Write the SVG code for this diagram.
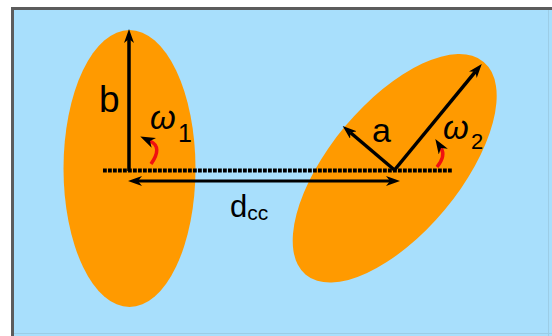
<svg xmlns="http://www.w3.org/2000/svg" width="552" height="336" viewBox="0 0 552 336">
<style>
.lbl{font-family:"Liberation Sans",Arial,sans-serif;fill:#000}
.ell{fill:#FF9A00}
.ax{stroke:#000;stroke-width:3.5;fill:none}
.rot{stroke:#F01010;stroke-width:3.5;fill:none}
</style>
<defs>
<marker id="ah" viewBox="0 0 14 10" refX="4" refY="5" markerWidth="14" markerHeight="10" markerUnits="userSpaceOnUse" orient="auto-start-reverse">
<path d="M0,0 L14,5 L0,10 L4,5 Z" fill="#000"/>
</marker>
<marker id="ahs" viewBox="0 0 14 10" refX="4" refY="5" markerWidth="15" markerHeight="11" markerUnits="userSpaceOnUse" orient="auto">
<path d="M0,0 L14,5 L0,10 L4,5 Z" fill="#000"/>
</marker>
</defs>
<rect x="0" y="0" width="552" height="336" fill="#fff"/>
<rect x="12" y="8" width="540" height="328" fill="#A8DFFC"/>
<path d="M548.5,10 V336 M12,333.5 H552" stroke="#9CCDE6" stroke-width="1" fill="none"/>
<path d="M12.5,336 V8.5 H552" stroke="#5C5C5C" stroke-width="3" fill="none"/>

<g id="ellipse1">
<ellipse class="ell" cx="129.5" cy="168.5" rx="66" ry="138.5"/>
</g>
<g id="ellipse2">
<ellipse class="ell" cx="394.7" cy="168.3" rx="138.7" ry="65" transform="rotate(-50.1 394.7 168.3)"/>
</g>

<g id="connectors">
<line x1="103" y1="170.5" x2="452" y2="170.5" stroke="#000" stroke-width="4" stroke-dasharray="3.8 1.2"/>
<line class="ax" x1="129" y1="171" x2="129" y2="39" marker-end="url(#ah)"/>
<line class="ax" x1="394.5" y1="170" x2="475.4" y2="71.7" marker-end="url(#ah)"/>
<line class="ax" x1="394.5" y1="170" x2="350.3" y2="132.5" marker-end="url(#ah)"/>
<line x1="138" y1="181" x2="390" y2="181" stroke="#000" stroke-width="2.8" marker-start="url(#ah)" marker-end="url(#ah)"/>
<path class="rot" d="M151,164 Q163,147 150,141" marker-end="url(#ahs)"/>
<path class="rot" d="M437,167 Q446,156 441,148" marker-end="url(#ahs)"/>
</g>

<g id="labels">
<text class="lbl" x="99" y="112" font-size="37">b</text>
<text class="lbl" x="372" y="142" font-size="34">a</text>
<text class="lbl" x="230" y="217" font-size="31">d<tspan font-size="21" dy="3">cc</tspan></text>
<text class="lbl" x="150" y="129" font-size="33" font-style="italic">ω</text>
<text class="lbl" x="178" y="142" font-size="25">1</text>
<text class="lbl" x="443" y="139" font-size="33" font-style="italic">ω</text>
<text class="lbl" x="471" y="149" font-size="22">2</text>
</g>
</svg>
